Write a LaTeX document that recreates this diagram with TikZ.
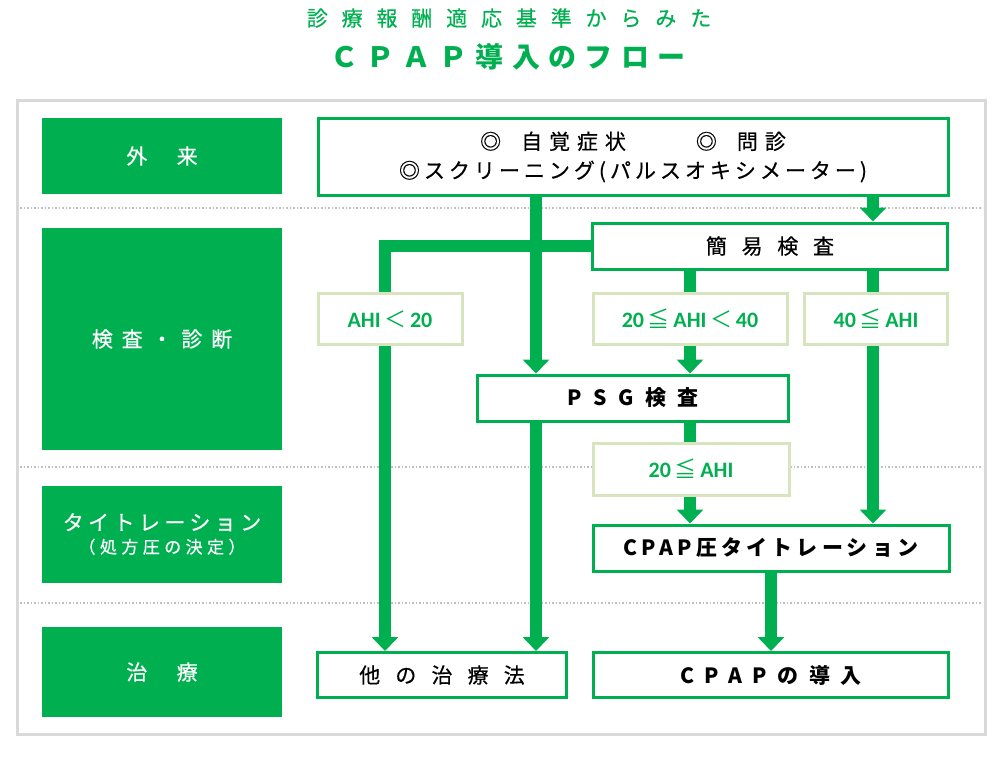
\documentclass[tikz,border=0pt]{standalone}
\usepackage{fontspec}
\setmainfont{Noto Sans CJK JP}[UprightFeatures={FakeBold=0.5}]
\newfontfamily\cjkfont{Noto Sans CJK JP}
\newfontfamily\ahifont{Carlito}
\usetikzlibrary{arrows.meta}
\definecolor{cgreen}{HTML}{00B050}
\definecolor{clight}{HTML}{D7E4BD}
\definecolor{cframe}{HTML}{D9D9D9}
\definecolor{cdot}{HTML}{BFBFBF}
\newcommand{\sized}[2]{\fontsize{#1}{#2}\selectfont}
\newcommand{\track}[1]{\addfontfeature{LetterSpace=#1}}
\newcommand{\ahile}{{\cjkfont\mdseries ≦}}
\newcommand{\ahilt}{{\cjkfont\mdseries ＜}}
\tikzset{
    stage/.style={fill=cgreen, text=white, inner sep=0pt, minimum width=240pt, align=center, font=\sized{21}{26}},
    flowbox/.style={draw=cgreen, line width=3pt, fill=white, inner sep=0pt, align=center, font=\sized{21}{29}},
    condbox/.style={draw=clight, line width=3pt, fill=white, inner sep=0pt, text=cgreen, font=\ahifont\bfseries\sized{22}{24}},
    flow/.style={draw=cgreen, line width=12pt},
    flowarrow/.style={flow, -{Triangle[width=26pt, length=14pt]}},
}

\begin{document}
\begin{tikzpicture}[x=1pt, y=-1pt]
    \useasboundingbox (0,0) rectangle (1000,760);

    \node (title1) [text=cgreen, font=\sized{21}{24}] at (509,18) {\track{66}診療報酬適応基準からみた};
    \node (title2) [text=cgreen, font=\sized{28}{30}\bfseries] at (508,57) {\track{30}ＣＰＡＰ導入のフロー};

    \draw [cframe, line width=3pt] (17,100) rectangle (985,734);
    \foreach \y in {208, 467, 603}
        \draw [cdot, line width=1.5pt, dash pattern=on 1.5pt off 2pt] (20,\y) -- (982,\y);

    \node (outpt) [stage, minimum height=76pt] at (162,156) {\track{20}外　来};
    \node (exam) [stage, minimum height=222pt] at (162,339) {\track{42}検査・診断};
    \node (titr) [stage, minimum height=97pt] at (162,534) {{\track{21}タイトレーション}\\[-3pt]{\sized{17}{20}\track{26}（処方圧の決定）}};
    \node (treat) [stage, minimum height=90pt] at (162,672) {\track{20}治　療};

    \node (symp) [flowbox, minimum width=630pt, minimum height=77pt] at (633,157) {{\track{33}◎\hspace{20pt}自覚症状\hspace{70pt}◎\hspace{20pt}問診}\\{\track{19}◎スクリーニング(パルスオキシメーター)}};
    \node (kani) [flowbox, minimum width=355pt, minimum height=46pt] at (770,246) {\track{70}簡易検査};
    \node (ahiA) [condbox, minimum width=144pt, minimum height=51pt] at (390,319) {AHI\,\ahilt\,20};
    \node (ahiB) [condbox, minimum width=194pt, minimum height=51pt] at (690,319) {20\,\ahile\,AHI\,\ahilt\,40};
    \node (ahiC) [condbox, minimum width=143pt, minimum height=51pt] at (876,319) {40\,\ahile\,AHI};
    \node (psg) [flowbox, minimum width=311pt, minimum height=46pt] at (633,398) {\bfseries\track{55}PSG検査};
    \node (ahiD) [condbox, minimum width=196pt, minimum height=52pt] at (691,469) {20\,\ahile\,AHI};
    \node (cpapt) [flowbox, minimum width=356pt, minimum height=46pt] at (771,548) {\bfseries\track{20}CPAP圧タイトレーション};
    \node (other) [flowbox, minimum width=249pt, minimum height=45pt] at (442,675) {\track{72}他の治療法};
    \node (cpap) [flowbox, minimum width=355pt, minimum height=45pt] at (771,675) {\bfseries\track{50}CPAPの導入};

    \coordinate (colA) at (385,0);
    \coordinate (colB) at (536,0);
    \coordinate (colC) at (690,0);
    \coordinate (colD) at (873,0);
    \coordinate (colE) at (771,0);

    \draw [flowarrow] (symp.south -| colB) -- (psg.north -| colB);
    \draw [flowarrow] (symp.south -| colD) -- (kani.north -| colD);
    \draw [flow] (kani.west) -| (ahiA.north -| colA);
    \draw [flowarrow] (ahiA.south -| colA) -- (other.north -| colA);
    \draw [flow] (kani.south -| colC) -- (ahiB.north -| colC);
    \draw [flowarrow] (ahiB.south -| colC) -- (psg.north -| colC);
    \draw [flow] (kani.south -| colD) -- (ahiC.north -| colD);
    \draw [flowarrow] (ahiC.south -| colD) -- (cpapt.north -| colD);
    \draw [flowarrow] (psg.south -| colB) -- (other.north -| colB);
    \draw [flow] (psg.south -| colC) -- (ahiD.north -| colC);
    \draw [flowarrow] (ahiD.south -| colC) -- (cpapt.north -| colC);
    \draw [flowarrow] (cpapt.south -| colE) -- (cpap.north -| colE);
\end{tikzpicture}
\end{document}
